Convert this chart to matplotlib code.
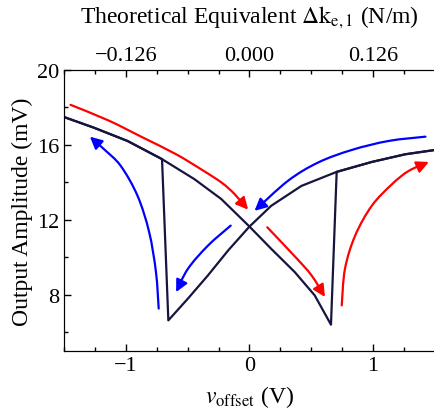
import numpy as np
import matplotlib
matplotlib.use('Agg')
import matplotlib.pyplot as plt
from matplotlib.patches import FancyArrowPatch
from matplotlib.path import Path
from matplotlib.ticker import MultipleLocator

plt.rcParams['font.family'] = ['Liberation Serif', 'DejaVu Serif']
plt.rcParams['mathtext.fontset'] = 'stix'

#forward sweep (left -> right)
fwd_v = [-1.5, -1.258, -0.986, -0.707, -0.445, -0.228, 0.0,
         0.176, 0.366, 0.528, 0.659, 0.705, 0.989, 1.260, 1.5]
fwd_amp = [17.49, 16.92, 16.21, 15.24, 14.17, 13.11, 11.64,
           10.45, 9.21, 7.96, 6.40, 14.56, 15.09, 15.50, 15.73]

#backward sweep (right -> left)
bwd_v = [1.5, 1.260, 0.989, 0.705, 0.42, 0.176, 0.0, -0.173, -0.336,
         -0.498, -0.656, -0.707, -0.986, -1.258, -1.5]
bwd_amp = [15.73, 15.50, 15.09, 14.56, 13.81, 12.75, 11.64, 10.36, 9.03,
           7.79, 6.63, 15.24, 16.21, 16.92, 17.49]

#sweep direction arrows (tail -> head)
red_arrows = [
    ([-1.447, -1.138, -0.870, -0.593, -0.382, -0.224, -0.120, -0.011],
     [18.14, 17.30, 16.42, 15.50, 14.66, 13.98, 13.37, 12.54]),
    ([0.144, 0.366, 0.502, 0.610], [11.60, 10.05, 9.03, 7.88]),
    ([0.746, 0.772, 0.854, 0.989, 1.152, 1.287, 1.450],
     [7.43, 9.38, 11.15, 12.75, 13.90, 14.61, 15.09]),
]
blue_arrows = [
    ([1.423, 1.124, 0.827, 0.555, 0.311, 0.041],
     [16.44, 16.21, 15.73, 15.06, 14.08, 12.48]),
    ([-0.152, -0.336, -0.498, -0.593], [11.69, 10.62, 9.38, 8.14]),
    ([-0.734, -0.756, -0.811, -0.905, -1.041, -1.176, -1.290],
     [7.26, 9.21, 11.34, 13.28, 14.88, 15.77, 16.44]),
]

top_ticks = [-1, 0, 1]
top_labels = ['\u22120.126', '0.000', '0.126']

dark = '#15153f'
fs_tick = 16
fs_label = 17

fig = plt.figure(figsize=(4.35, 4.14), dpi=100)
ax = fig.add_axes([0.147, 0.150, 0.853, 0.6785])

ax.plot(fwd_v, fwd_amp, color=dark, lw=1.6, zorder=3)
ax.plot(bwd_v, bwd_amp, color=dark, lw=1.6, zorder=3)

def smooth_path(xs, ys):
    #catmull-rom through the read points, as bezier segments
    P = np.column_stack([xs, ys]).astype(float)
    n = len(P)
    verts = [P[0]]
    codes = [Path.MOVETO]
    for i in range(n - 1):
        p0 = P[i - 1] if i > 0 else P[i]
        p3 = P[i + 2] if i + 2 < n else P[i + 1]
        c1 = P[i] + (P[i + 1] - p0) / 6.0
        c2 = P[i + 1] - (p3 - P[i]) / 6.0
        verts += [c1, c2, P[i + 1]]
        codes += [Path.CURVE4] * 3
    return Path(verts, codes)

def arrow(xs, ys, c):
    p = FancyArrowPatch(path=smooth_path(xs, ys), arrowstyle='-|>',
                        mutation_scale=18, color=c, lw=1.6, zorder=4)
    ax.add_patch(p)

for xs, ys in red_arrows:
    arrow(xs, ys, '#ff0000')
for xs, ys in blue_arrows:
    arrow(xs, ys, '#0000ff')

ax.set_xlim(-1.5, 1.5)
ax.set_ylim(5, 20)
ax.xaxis.set_minor_locator(MultipleLocator(0.25))
ax.yaxis.set_minor_locator(MultipleLocator(2))
ax.set_xticks([-1, 0, 1])
ax.set_xticklabels(['\u22121', '0', '1'])
ax.set_yticks([8, 12, 16, 20])
ax.tick_params(which='both', direction='in', labelsize=fs_tick, top=False, right=False)
ax.tick_params(which='major', length=5, width=1)
ax.tick_params(which='minor', length=3, width=1)
ax.spines['right'].set_visible(False)
ax.set_xlabel(r'$v_{\mathrm{offset}}$ (V)', fontsize=fs_label, labelpad=6)
ax.set_ylabel('Output Amplitude (mV)', fontsize=fs_label, labelpad=3)

#top axis: equivalent stiffness change
ax2 = ax.twiny()
ax2.set_xlim(ax.get_xlim())
ax2.set_xticks(top_ticks)
ax2.set_xticklabels(top_labels)
ax2.xaxis.set_minor_locator(MultipleLocator(0.25))
ax2.tick_params(which='both', direction='in', labelsize=fs_tick)
ax2.tick_params(which='major', length=5, width=1)
ax2.tick_params(which='minor', length=3, width=1)
ax2.spines['right'].set_visible(False)
ax2.set_xlabel(r'Theoretical Equivalent $\Delta\mathrm{k}_{\mathrm{e,1}}$ (N/m)',
               fontsize=fs_label, labelpad=17)

fig.savefig('out.png', dpi=100)
